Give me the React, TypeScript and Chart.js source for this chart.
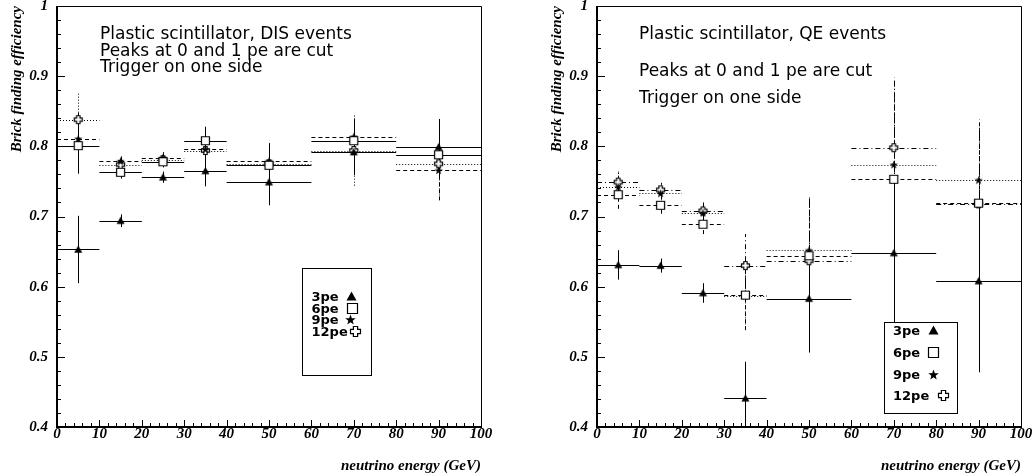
import React, { useEffect, useRef } from "react";
import { Chart, registerables } from "chart.js";

Chart.register(...registerables);

// ---------- data ----------
const binLow = [0, 10, 20, 30, 40, 60, 80];
const binHigh = [10, 20, 30, 40, 60, 80, 100];
const binCenter = [5, 15, 25, 35, 50, 70, 90];
const seriesLabels = ["3pe", "6pe", "9pe", "12pe"];

// DIS events (left panel)
const dis3pe = [0.653, 0.694, 0.756, 0.765, 0.749, 0.792, 0.799];
const dis3peErr = [0.048, 0.009, 0.008, 0.022, 0.033, 0.033, 0.04];
const dis6pe = [0.801, 0.763, 0.778, 0.808, 0.773, 0.808, 0.788];
const dis6peErr = [0.04, 0.009, 0.008, 0.02, 0.03, 0.03, 0.035];
const dis9pe = [0.811, 0.779, 0.784, 0.796, 0.779, 0.814, 0.766];
const dis9peErr = [0.037, 0.009, 0.008, 0.02, 0.03, 0.03, 0.043];
const dis12pe = [0.838, 0.774, 0.781, 0.794, 0.775, 0.794, 0.775];
const dis12peErr = [0.037, 0.009, 0.008, 0.02, 0.03, 0.05, 0.045];

// QE events (right panel)
const qe3pe = [0.631, 0.63, 0.591, 0.441, 0.583, 0.648, 0.608];
const qe3peErr = [0.021, 0.01, 0.014, 0.052, 0.077, 0.11, 0.13];
const qe6pe = [0.731, 0.716, 0.689, 0.588, 0.644, 0.753, 0.719];
const qe6peErr = [0.02, 0.012, 0.014, 0.05, 0.08, 0.12, 0.12];
const qe9pe = [0.742, 0.733, 0.705, 0.587, 0.652, 0.774, 0.752];
const qe9peErr = [0.02, 0.012, 0.013, 0.045, 0.076, 0.12, 0.075];
const qe12pe = [0.749, 0.738, 0.708, 0.63, 0.637, 0.798, 0.718];
const qe12peErr = [0.015, 0.01, 0.012, 0.045, 0.09, 0.1, 0.11];

const xTitle = "neutrino energy (GeV)";
const yTitle = "Brick finding efficiency";
const disNotes = ["Plastic scintillator, DIS events", "Peaks at 0 and 1 pe are cut", "Trigger on one side"];
const qeNotes = ["Plastic scintillator, QE events", "Peaks at 0 and 1 pe are cut", "Trigger on one side"];

// ---------- helpers ----------
const markerKinds = ["triangle", "square", "star", "cross"];

function makeMarker(kind: string, r: number): HTMLCanvasElement {
  const size = 2 * Math.ceil(r) + 5;
  const c = document.createElement("canvas");
  c.width = size;
  c.height = size;
  const g = c.getContext("2d")!;
  const m = size / 2;
  g.lineWidth = 1.2;
  g.strokeStyle = "#000";
  g.fillStyle = "#000";
  g.beginPath();
  if (kind === "triangle") {
    g.moveTo(m, m - r);
    g.lineTo(m + r, m + r * 0.8);
    g.lineTo(m - r, m + r * 0.8);
    g.closePath();
    g.fill();
  } else if (kind === "square") {
    g.rect(m - r, m - r, 2 * r, 2 * r);
    g.fillStyle = "#fff";
    g.fill();
    g.stroke();
  } else if (kind === "star") {
    for (let k = 0; k < 10; k++) {
      const ang = -Math.PI / 2 + (k * Math.PI) / 5;
      const rr = k % 2 === 0 ? r * 1.1 : r * 0.45;
      const px = m + rr * Math.cos(ang);
      const py = m + 0.5 + rr * Math.sin(ang);
      if (k === 0) g.moveTo(px, py);
      else g.lineTo(px, py);
    }
    g.closePath();
    g.fill();
  } else {
    const w = r * 0.42;
    const pts = [
      [-w, -r], [w, -r], [w, -w], [r, -w], [r, w], [w, w],
      [w, r], [-w, r], [-w, w], [-r, w], [-r, -w], [-w, -w],
    ];
    pts.forEach((p, k) => (k === 0 ? g.moveTo(m + p[0], m + p[1]) : g.lineTo(m + p[0], m + p[1])));
    g.closePath();
    g.fillStyle = "#fff";
    g.fill();
    g.stroke();
  }
  return c;
}

const isMajorY = (v: number) => Math.abs(v * 10 - Math.round(v * 10)) < 1e-6;
const serifBI = { family: "'Liberation Serif', 'DejaVu Serif', serif", size: 15, weight: "bold" as const, style: "italic" as const };

type SeriesDef = { label: string; values: number[]; errors: number[]; dash: number[] };
type LegendDef = { x: number; y: number; w: number; h: number; textX: number; rowY: number[]; markerX: number[] };

type PanelProps = {
  left: number;
  width: number;
  padRight: number;
  series: SeriesDef[];
  notes: string[];
  noteX: number;
  noteY: number[];
  legend: LegendDef;
};

function Panel(props: PanelProps) {
  const ref = useRef<HTMLCanvasElement>(null);
  useEffect(() => {
    const { series, notes, noteX, noteY, legend } = props;
    const plotMarkers = markerKinds.map((k) => makeMarker(k, k === "square" ? 4 : 4));
    const legendMarkers = markerKinds.map((k) => makeMarker(k, 5));

    const decor = {
      id: "decor",
      beforeDatasetsDraw(chart: any) {
        const { ctx, chartArea: a, scales } = chart;
        const xs = scales.x;
        const ys = scales.y;
        ctx.save();
        ctx.beginPath();
        ctx.rect(a.left, a.top, a.right - a.left, a.bottom - a.top);
        ctx.clip();
        ctx.strokeStyle = "#000";
        ctx.lineWidth = 1;
        series.forEach((s) => {
          ctx.setLineDash(s.dash);
          s.values.forEach((v, i) => {
            const py = Math.round(ys.getPixelForValue(v)) + 0.5;
            ctx.beginPath();
            ctx.moveTo(xs.getPixelForValue(binLow[i]), py);
            ctx.lineTo(xs.getPixelForValue(binHigh[i]), py);
            ctx.stroke();
            const px = Math.round(xs.getPixelForValue(binCenter[i])) + 0.5;
            ctx.beginPath();
            ctx.moveTo(px, ys.getPixelForValue(v - s.errors[i]));
            ctx.lineTo(px, ys.getPixelForValue(v + s.errors[i]));
            ctx.stroke();
          });
        });
        ctx.restore();
      },
      afterDraw(chart: any) {
        const { ctx, chartArea: a, scales } = chart;
        const xs = scales.x;
        const ys = scales.y;
        const L = Math.round(a.left);
        const R = Math.round(a.right);
        const T = Math.round(a.top);
        const B = Math.round(a.bottom);
        ctx.save();
        ctx.setLineDash([]);
        ctx.strokeStyle = "#000";
        ctx.fillStyle = "#000";
        ctx.lineWidth = 1;
        ctx.beginPath();
        ctx.moveTo(L, T + 0.5);
        ctx.lineTo(R + 0.5, T + 0.5);
        ctx.lineTo(R + 0.5, B);
        ctx.stroke();
        ctx.fillRect(L - 1, T, 2, B - T + 1);
        ctx.fillRect(L - 1, B - 1, R - L + 2, 2);
        ctx.beginPath();
        ys.ticks.forEach((t: any) => {
          const py = Math.round(ys.getPixelForValue(t.value)) + 0.5;
          ctx.moveTo(L, py);
          ctx.lineTo(L + (isMajorY(t.value) ? 8 : 4), py);
        });
        xs.ticks.forEach((t: any) => {
          const px = Math.round(xs.getPixelForValue(t.value)) + 0.5;
          ctx.moveTo(px, B);
          ctx.lineTo(px, B - (Math.round(t.value) % 10 === 0 ? 7 : 4));
        });
        ctx.stroke();

        ctx.font = "17px 'DejaVu Sans'";
        ctx.textAlign = "left";
        ctx.textBaseline = "alphabetic";
        notes.forEach((n, i) => ctx.fillText(n, noteX, noteY[i]));

        ctx.fillStyle = "#fff";
        ctx.fillRect(legend.x, legend.y, legend.w, legend.h);
        ctx.strokeRect(legend.x + 0.5, legend.y + 0.5, legend.w, legend.h);
        ctx.fillStyle = "#000";
        ctx.font = "bold 13px 'DejaVu Sans'";
        series.forEach((s, i) => {
          ctx.fillText(s.label, legend.textX, legend.rowY[i]);
          const mk = legendMarkers[i];
          ctx.drawImage(mk, Math.round(legend.markerX[i] - mk.width / 2), Math.round(legend.rowY[i] - 4.5 - mk.height / 2));
        });
        ctx.restore();
      },
    };

    const chart = new Chart(ref.current!, {
      type: "scatter",
      data: {
        datasets: series.map((s, i) => ({
          label: s.label,
          data: s.values.map((v, j) => ({ x: binCenter[j], y: v })),
          pointStyle: plotMarkers[i] as any,
          pointRadius: 5,
          pointHoverRadius: 5,
          showLine: false,
        })),
      },
      options: {
        animation: false,
        responsive: false,
        events: [],
        layout: { padding: { top: 5, right: props.padRight, left: 0, bottom: 0 } },
        plugins: { legend: { display: false }, tooltip: { enabled: false } },
        scales: {
          x: {
            type: "linear",
            min: 0,
            max: 100,
            grid: { display: false, drawTicks: false },
            border: { display: false },
            ticks: {
              stepSize: 2,
              autoSkip: false,
              maxRotation: 0,
              padding: 0,
              color: "#000",
              font: { ...serifBI, lineHeight: 1 },
              callback: (v: any) => (Math.round(v) % 10 === 0 ? String(Math.round(v)) : ""),
            },
            title: {
              display: true,
              text: xTitle,
              align: "end",
              color: "#000",
              font: { ...serifBI, lineHeight: 1.2 },
              padding: { top: 0, bottom: 1 },
            },
            afterFit: (s: any) => {
              s.height = 49;
            },
          },
          y: {
            type: "linear",
            min: 0.4,
            max: 1,
            grid: { display: true, drawOnChartArea: false, drawTicks: true, tickLength: 9, tickColor: "rgba(0,0,0,0)" },
            border: { display: false },
            ticks: {
              stepSize: 0.02,
              autoSkip: false,
              padding: 0,
              color: "#000",
              font: { ...serifBI, lineHeight: 0.6 },
              callback: (v: any) => (isMajorY(v) ? (Math.abs(v - 1) < 1e-6 ? "1" : Number(v).toFixed(1)) : ""),
            },
            title: {
              display: true,
              text: yTitle,
              align: "end",
              color: "#000",
              font: { ...serifBI, lineHeight: 1.2 },
              padding: { top: 8, bottom: 0 },
            },
            afterFit: (s: any) => {
              s.width = 57;
            },
          },
        },
      },
      plugins: [decor],
    });
    return () => chart.destroy();
  }, []);
  return (
    <canvas
      ref={ref}
      width={props.width}
      height={476}
      style={{ position: "absolute", left: props.left, top: 0, width: props.width, height: 476 }}
    />
  );
}

const disSeries: SeriesDef[] = [
  { label: seriesLabels[0], values: dis3pe, errors: dis3peErr, dash: [] },
  { label: seriesLabels[1], values: dis6pe, errors: dis6peErr, dash: [] },
  { label: seriesLabels[2], values: dis9pe, errors: dis9peErr, dash: [4, 3] },
  { label: seriesLabels[3], values: dis12pe, errors: dis12peErr, dash: [1, 2] },
];

const qeSeries: SeriesDef[] = [
  { label: seriesLabels[0], values: qe3pe, errors: qe3peErr, dash: [] },
  { label: seriesLabels[1], values: qe6pe, errors: qe6peErr, dash: [4, 3] },
  { label: seriesLabels[2], values: qe9pe, errors: qe9peErr, dash: [1, 2] },
  { label: seriesLabels[3], values: qe12pe, errors: qe12peErr, dash: [5, 3, 1, 3] },
];

export default function App() {
  return (
    <div style={{ position: "absolute", left: 0, top: 0, width: 1033, height: 476, background: "#fff", overflow: "hidden" }}>
      <Panel
        left={0}
        width={540}
        padRight={59}
        series={disSeries}
        notes={disNotes}
        noteX={100}
        noteY={[39, 55.5, 72]}
        legend={{ x: 302, y: 268, w: 69, h: 107, textX: 311.5, rowY: [301, 312.5, 324, 336], markerX: [351, 352, 350, 355] }}
      />
      <Panel
        left={540}
        width={493}
        padRight={12}
        series={qeSeries}
        notes={qeNotes}
        noteX={99}
        noteY={[39, 76, 103]}
        legend={{ x: 344, y: 322, w: 73, h: 91, textX: 353, rowY: [335, 357, 378.5, 400], markerX: [393, 393, 393, 403] }}
      />
    </div>
  );
}
